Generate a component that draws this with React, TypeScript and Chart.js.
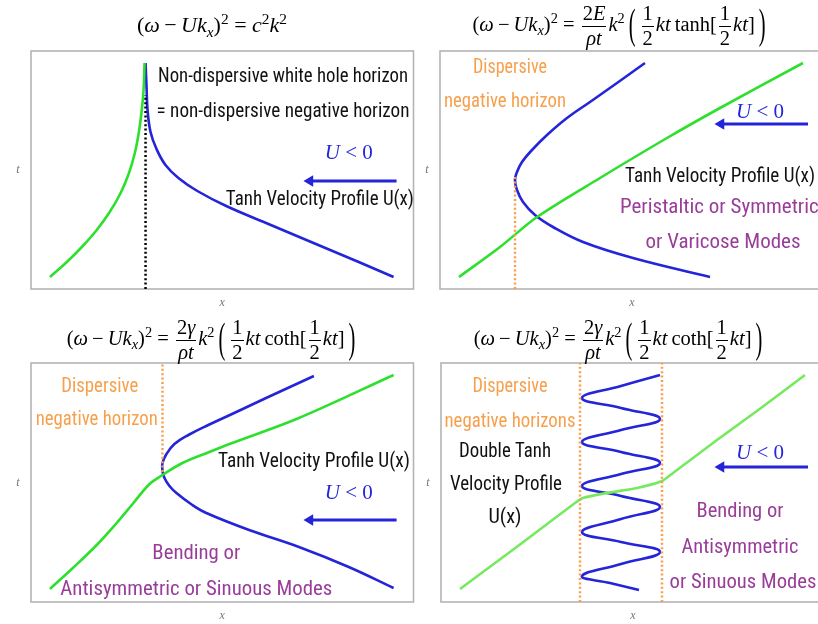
import React, { useEffect, useRef } from "react";
import { Chart, registerables } from "chart.js";
Chart.register(...registerables);

// ---------- Data (x, t units of each panel's plot box) ----------
// Panel 1: non-dispersive
const p1GreenX = [19, 36, 52, 66, 79, 90, 98, 104, 108, 111, 113, 114];
const p1GreenT = [12, 27, 43, 59, 77, 96, 115, 135, 155, 177, 199, 226];
const p1BlueX = [115, 116, 117, 120, 126, 135, 148, 167, 196, 236, 286, 329, 364];
const p1BlueT = [226, 202, 179, 157, 140, 124, 111, 98, 83, 66, 45, 27, 12];
const p1HorizonX = [115, 115];
const p1HorizonT = [0, 194];
const p1ArrowX = [367, 280];
const p1ArrowT = [108, 108];

// Panel 2: tanh, peristaltic
const p2GreenX = [19, 60, 97, 160, 227, 280, 363];
const p2GreenT = [12, 42, 72, 111, 151, 181, 226];
const p2BlueX = [205, 177, 150, 127, 107, 92, 82, 77, 75, 77, 83, 95, 113, 143, 193, 270];
const p2BlueT = [226, 206, 187, 171, 154, 139, 127, 117, 109, 99, 87, 74, 62, 47, 31, 12];
const p2HorizonX = [75, 75];
const p2HorizonT = [0, 112];
const p2ArrowX = [368, 281];
const p2ArrowT = [165, 165];

// Panel 3: coth, bending
const p3GreenX = [19, 42, 66, 86, 102, 119, 132, 152, 179, 202, 269, 364];
const p3GreenT = [13, 34, 57, 79, 98, 118, 127, 139, 150, 159, 184, 227];
const p3BlueX = [284, 236, 204, 178, 158, 144, 136, 132, 132, 134, 139, 146, 162, 176, 219, 269, 319, 364];
const p3BlueT = [226, 204, 189, 177, 167, 158, 148, 139, 131, 124, 116, 109, 97, 89, 72, 55, 35, 14];
const p3HorizonX = [132, 132];
const p3HorizonT = [130, 239];
const p3ArrowX = [367, 280];
const p3ArrowT = [82, 82];

// Panel 4: double tanh
const p4GreenX = [19, 77, 134, 142, 166, 196, 221, 232, 276, 320, 364];
const p4GreenT = [13, 56, 99, 104, 109, 114, 121, 129, 162, 194, 227];
const p4BlueX = [219, 180, 141, 180, 219, 180, 141, 180, 219, 180, 141, 180, 219, 180, 141, 180, 219, 180, 141, 169, 198];
const p4BlueT = [227, 216, 204, 194, 183, 172, 160, 150, 139, 128, 116, 106, 95, 83, 70, 60, 50, 38, 26, 19, 12];
const p4HorizonAX = [139, 139];
const p4HorizonBX = [221, 221];
const p4HorizonT = [0, 239];
const p4ArrowX = [367, 280];
const p4ArrowT = [135, 135];

// ---------- Styles ----------
const BLUE = "#2424d8";
const GREEN = "#2ee02e";
const GREEN_LIGHT = "#76e95f";
const ORANGE = "#f6a04d";
const PURPLE = "#993d99";
const BLACK = "#111111";
const HAND = '"Liberation Sans Narrow", "Roboto Condensed", "Roboto", "Open Sans", sans-serif';
const SERIF = '"Liberation Serif", "DejaVu Serif", serif';

const pts = (xs: number[], ts: number[]) => xs.map((x, i) => ({ x, y: ts[i] }));

const curve = (xs: number[], ts: number[], color: string, tension = 0.4) => ({
  data: pts(xs, ts),
  showLine: true,
  borderColor: color,
  backgroundColor: color,
  borderWidth: 2.6,
  pointRadius: 0,
  tension,
  fill: false,
});

const dotted = (xs: number[], ts: number[], color: string) => ({
  data: pts(xs, ts),
  showLine: true,
  borderColor: color,
  borderWidth: 2.5,
  borderDash: [2, 2.4],
  pointRadius: 0,
  tension: 0,
  fill: false,
});

const arrow = (xs: number[], ts: number[]) => ({
  data: pts(xs, ts),
  showLine: true,
  borderColor: BLUE,
  backgroundColor: BLUE,
  borderWidth: 2.8,
  pointRadius: [0, 6.5],
  pointStyle: "triangle",
  pointRotation: [0, 270],
  pointBorderWidth: 0,
  tension: 0,
  fill: false,
  clip: false,
});

type Label = { text: string; x: number; t: number; color: string; w: number; align?: CanvasTextAlign };

interface PanelCfg {
  left: number;
  top: number;
  w: number;
  h: number;
  pad: { left: number; top: number; right: number; bottom: number };
  xmax: number;
  tmax: number;
  datasets: any[];
  labels: Label[];
  uLabel: { x: number; t: number };
}

const annotPlugin = {
  id: "annot",
  beforeDatasetsDraw(chart: any) {
    const { ctx, chartArea: a } = chart;
    ctx.save();
    ctx.strokeStyle = "#b4b4b4";
    ctx.lineWidth = 1.6;
    ctx.strokeRect(a.left, a.top, a.right - a.left, a.bottom - a.top);
    ctx.fillStyle = "#777";
    ctx.font = `italic 12px ${SERIF}`;
    ctx.textAlign = "center";
    ctx.textBaseline = "middle";
    ctx.fillText("t", a.left - 13, (a.top + a.bottom) / 2);
    ctx.fillText("x", (a.left + a.right) / 2, a.bottom + 14);
    ctx.restore();
  },
  afterDatasetsDraw(chart: any, _args: any, opts: any) {
    const { ctx } = chart;
    const xs = chart.scales.x;
    const ys = chart.scales.y;
    ctx.save();
    ctx.textBaseline = "middle";
    for (const l of opts.labels as Label[]) {
      ctx.font = `21px ${HAND}`;
      ctx.fillStyle = l.color;
      ctx.textAlign = l.align || "center";
      ctx.fillText(l.text, xs.getPixelForValue(l.x), ys.getPixelForValue(l.t), l.w);
    }
    // "U < 0"
    const u = opts.uLabel;
    const cx = xs.getPixelForValue(u.x);
    const cy = ys.getPixelForValue(u.t);
    ctx.fillStyle = BLUE;
    ctx.textAlign = "left";
    ctx.font = `italic 21px ${SERIF}`;
    const wU = ctx.measureText("U").width;
    ctx.font = `21px ${SERIF}`;
    const rest = "\u2005<\u20050";
    const wR = ctx.measureText(rest).width;
    const start = cx - (wU + wR) / 2;
    ctx.font = `italic 21px ${SERIF}`;
    ctx.fillText("U", start, cy);
    ctx.font = `21px ${SERIF}`;
    ctx.fillText(rest, start + wU, cy);
    ctx.restore();
  },
};

function Panel({ cfg }: { cfg: PanelCfg }) {
  const ref = useRef<HTMLCanvasElement>(null);
  useEffect(() => {
    const chart = new Chart(ref.current as HTMLCanvasElement, {
      type: "scatter",
      data: { datasets: cfg.datasets },
      options: {
        responsive: false,
        animation: false,
        devicePixelRatio: 1,
        layout: { padding: cfg.pad },
        scales: {
          x: { type: "linear", display: false, min: 0, max: cfg.xmax },
          y: { type: "linear", display: false, min: 0, max: cfg.tmax },
        },
        plugins: {
          legend: { display: false },
          tooltip: { enabled: false },
          annot: { labels: cfg.labels, uLabel: cfg.uLabel },
        } as any,
      },
      plugins: [annotPlugin],
    } as any);
    return () => chart.destroy();
  }, []);
  return (
    <canvas
      ref={ref}
      width={cfg.w}
      height={cfg.h}
      style={{ position: "absolute", left: cfg.left, top: cfg.top, width: cfg.w, height: cfg.h }}
    />
  );
}

const panels: PanelCfg[] = [
  {
    left: 0, top: 0, w: 420, h: 310,
    pad: { left: 31, top: 51, right: 5, bottom: 21 },
    xmax: 384, tmax: 238,
    datasets: [
      dotted(p1HorizonX, p1HorizonT, "#000000"),
      curve(p1GreenX, p1GreenT, GREEN),
      curve(p1BlueX, p1BlueT, BLUE),
      arrow(p1ArrowX, p1ArrowT),
    ],
    labels: [
      { text: "Non-dispersive white hole horizon", x: 253, t: 212, color: BLACK, w: 250 },
      { text: "= non-dispersive negative horizon", x: 253, t: 177, color: BLACK, w: 253 },
      { text: "Tanh Velocity Profile U(x)", x: 290, t: 89, color: BLACK, w: 188 },
    ],
    uLabel: { x: 319, t: 136 },
  },
  {
    left: 420, top: 0, w: 420, h: 310,
    pad: { left: 20, top: 51, right: 16, bottom: 21 },
    xmax: 384, tmax: 238,
    datasets: [
      dotted(p2HorizonX, p2HorizonT, ORANGE),
      curve(p2GreenX, p2GreenT, GREEN, 0.3),
      curve(p2BlueX, p2BlueT, BLUE),
      arrow(p2ArrowX, p2ArrowT),
    ],
    labels: [
      { text: "Dispersive", x: 70, t: 221, color: ORANGE, w: 74 },
      { text: "negative horizon", x: 65, t: 187, color: ORANGE, w: 122 },
      { text: "Tanh Velocity Profile U(x)", x: 280, t: 112, color: BLACK, w: 190 },
      { text: "Peristaltic or Symmetric", x: 180, t: 81, color: PURPLE, w: 202, align: "left" },
      { text: "or Varicose Modes", x: 283, t: 46, color: PURPLE, w: 157 },
    ],
    uLabel: { x: 320, t: 177 },
  },
  {
    left: 0, top: 310, w: 420, h: 314,
    pad: { left: 31, top: 53, right: 5, bottom: 22 },
    xmax: 384, tmax: 239,
    datasets: [
      dotted(p3HorizonX, p3HorizonT, ORANGE),
      curve(p3GreenX, p3GreenT, GREEN, 0.35),
      curve(p3BlueX, p3BlueT, BLUE),
      arrow(p3ArrowX, p3ArrowT),
    ],
    labels: [
      { text: "Dispersive", x: 69, t: 215, color: ORANGE, w: 77 },
      { text: "negative horizon", x: 66, t: 182, color: ORANGE, w: 122 },
      { text: "Tanh Velocity Profile U(x)", x: 284, t: 140, color: BLACK, w: 192 },
      { text: "Bending or", x: 166, t: 48, color: PURPLE, w: 88 },
      { text: "Antisymmetric or Sinuous Modes", x: 166, t: 12, color: PURPLE, w: 272 },
    ],
    uLabel: { x: 319, t: 109 },
  },
  {
    left: 420, top: 310, w: 420, h: 314,
    pad: { left: 21, top: 53, right: 15, bottom: 22 },
    xmax: 384, tmax: 239,
    datasets: [
      dotted(p4HorizonAX, p4HorizonT, ORANGE),
      dotted(p4HorizonBX, p4HorizonT, ORANGE),
      curve(p4GreenX, p4GreenT, GREEN_LIGHT, 0.2),
      curve(p4BlueX, p4BlueT, BLUE, 0.45),
      arrow(p4ArrowX, p4ArrowT),
    ],
    labels: [
      { text: "Dispersive", x: 69, t: 215, color: ORANGE, w: 75 },
      { text: "negative horizons", x: 69, t: 180, color: ORANGE, w: 131 },
      { text: "Double Tanh", x: 64, t: 150, color: BLACK, w: 92 },
      { text: "Velocity Profile", x: 65, t: 117, color: BLACK, w: 112 },
      { text: "U(x)", x: 64, t: 84, color: BLACK, w: 33 },
      { text: "Bending or", x: 299, t: 90, color: PURPLE, w: 87 },
      { text: "Antisymmetric", x: 299, t: 54, color: PURPLE, w: 117 },
      { text: "or Sinuous Modes", x: 302, t: 19, color: PURPLE, w: 147 },
    ],
    uLabel: { x: 319, t: 149 },
  },
];

// ---------- Title formulas ----------
const supS: React.CSSProperties = { fontSize: "0.7em", verticalAlign: "0.55em", lineHeight: 0 };
const subS: React.CSSProperties = { fontSize: "0.7em", verticalAlign: "-0.3em", lineHeight: 0 };

function Frac({ n, d }: { n: React.ReactNode; d: React.ReactNode }) {
  return (
    <span
      style={{
        display: "inline-flex",
        flexDirection: "column",
        alignItems: "stretch",
        verticalAlign: "middle",
        margin: "0 2px",
        textAlign: "center",
      }}
    >
      <span style={{ lineHeight: 1.05, padding: "0 1px 1px" }}>{n}</span>
      <span style={{ lineHeight: 1.05, borderTop: "1px solid #000", padding: "1px 1px 0" }}>{d}</span>
    </span>
  );
}

function Big({ c }: { c: string }) {
  return (
    <span style={{ display: "inline-block", transform: "scale(1, 2.1)", margin: "0 4px", fontWeight: 300 }}>{c}</span>
  );
}

const lhs = (
  <>
    (<i>ω</i>&thinsp;−&thinsp;<i>Uk</i>
    <sub style={subS}>
      <i>x</i>
    </sub>
    )<sup style={supS}>2</sup>&nbsp;=&nbsp;
  </>
);

function Rhs({ a, fn }: { a: React.ReactNode; fn: string }) {
  return (
    <>
      <Frac n={a} d={<i>ρt</i>} />
      <i>k</i>
      <sup style={supS}>2</sup>
      <Big c="(" />
      <Frac n="1" d="2" />
      <i>kt</i>&thinsp;{fn}[<Frac n="1" d="2" />
      <i>kt</i>]
      <Big c=")" />
    </>
  );
}

function Title({ cx, cy, children, size }: { cx: number; cy: number; children: React.ReactNode; size: number }) {
  return (
    <div
      style={{
        position: "absolute",
        left: cx - 220,
        top: cy - 30,
        width: 440,
        height: 60,
        display: "flex",
        alignItems: "center",
        justifyContent: "center",
        fontFamily: SERIF,
        fontSize: size,
        color: "#000",
        whiteSpace: "nowrap",
      }}
    >
      <span>{children}</span>
    </div>
  );
}

export default function App() {
  return (
    <div
      style={{
        position: "fixed",
        left: 0,
        top: 0,
        width: 818,
        height: 624,
        overflow: "hidden",
        background: "#ffffff",
      }}
    >
      {panels.map((p, i) => (
        <Panel key={i} cfg={p} />
      ))}
      <Title cx={212} cy={25} size={22}>
        {lhs}
        <i>c</i>
        <sup style={supS}>2</sup>
        <i>k</i>
        <sup style={supS}>2</sup>
      </Title>
      <Title cx={621} cy={26} size={20.5}>
        {lhs}
        <Rhs a={<>2<i>E</i></>} fn="tanh" />
      </Title>
      <Title cx={213} cy={340} size={20.5}>
        {lhs}
        <Rhs a={<>2<i>γ</i></>} fn="coth" />
      </Title>
      <Title cx={620} cy={340} size={20.5}>
        {lhs}
        <Rhs a={<>2<i>γ</i></>} fn="coth" />
      </Title>
    </div>
  );
}
